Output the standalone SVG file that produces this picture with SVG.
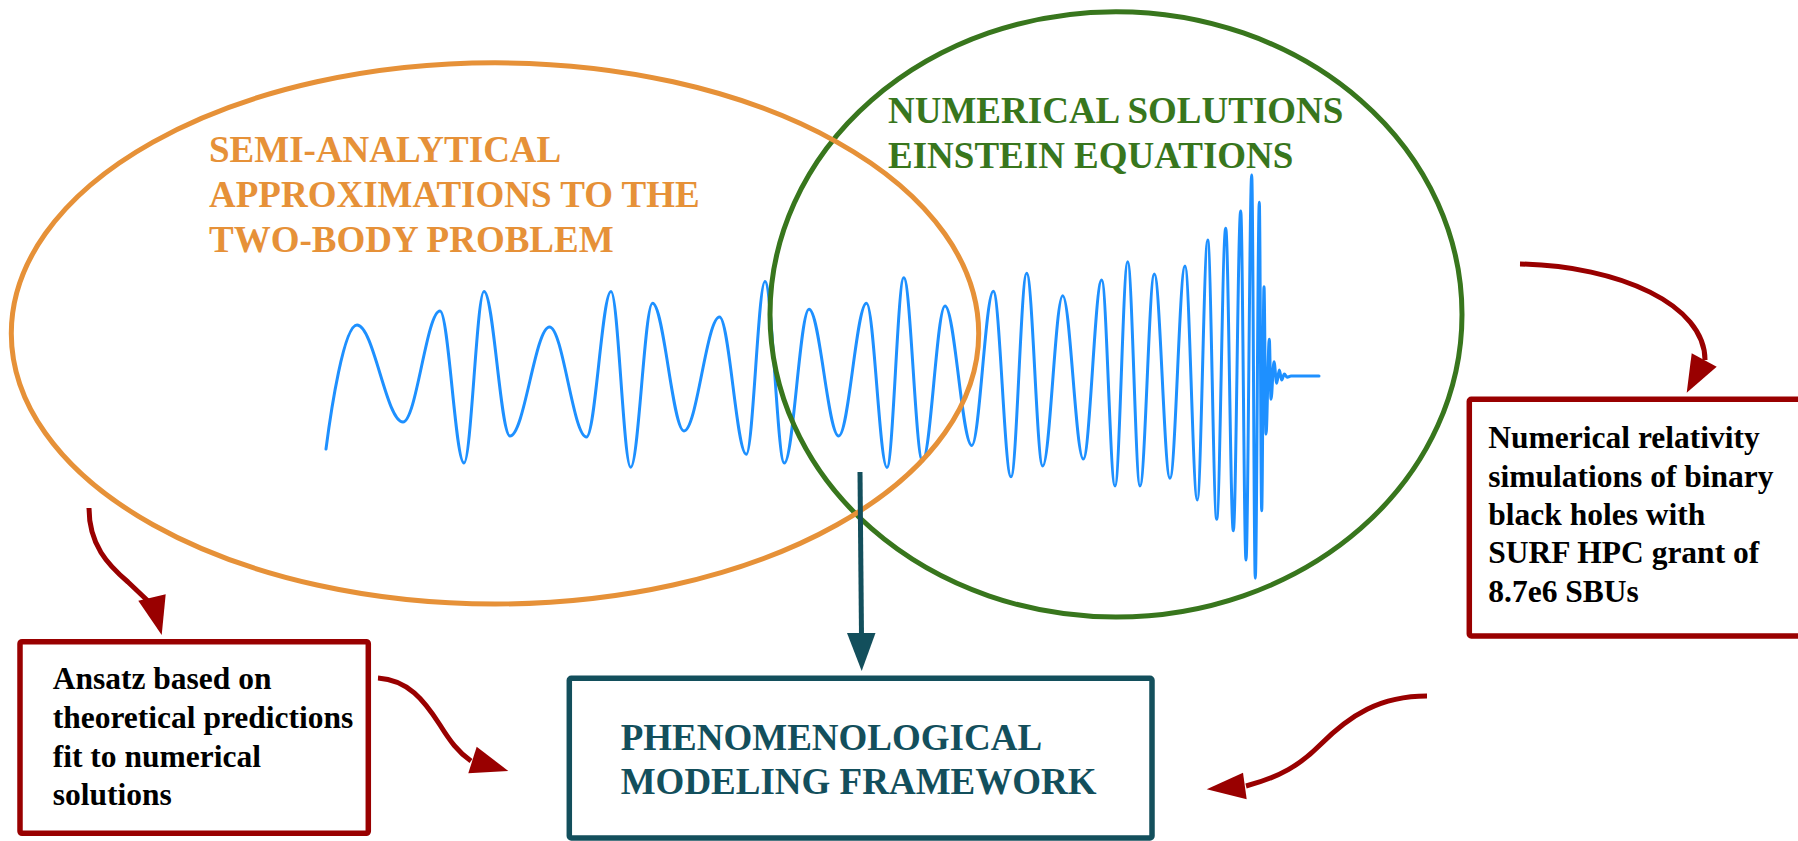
<svg xmlns="http://www.w3.org/2000/svg" width="1798" height="841" viewBox="0 0 1798 841">
<style>
.title{font-family:"Liberation Serif","Times New Roman",serif;font-weight:bold;font-size:37px}
.body{font-family:"Liberation Serif","Times New Roman",serif;font-weight:bold;font-size:31.5px;fill:#000}
.red{fill:none;stroke:#990000;stroke-width:5;stroke-linecap:butt}
.ah{fill:#990000}
.box{fill:#fff;stroke:#990000;stroke-width:5.5}
</style>
<rect width="1798" height="841" fill="#fff"/>

<g id="waveform">
<path fill="none" stroke="#1E90FF" stroke-width="3" stroke-linejoin="round" stroke-linecap="round" d="M326,449 C331,410 344,325 357,325 C373.6,325 386.4,422 403,422 C416.3,422 426.7,311 440,311 C448.6,311 455.4,463 464,463 C471.2,463 476.8,291.5 484,291.5 C493.4,291.5 500.6,436 510,436 C524.2,436 535.3,327 549.5,327 C562.8,327 573.2,437 586.5,437 C595.3,437 602.2,291.5 611,291.5 C618.1,291.5 623.6,467.3 630.7,467.3 C638.5,467.3 644.7,303.3 652.5,303.3 C663.8,303.3 672.7,431 684,431 C696.8,431 706.7,317 719.5,317 C729.1,317 736.7,454.3 746.3,454.3 C753,454.3 758.3,281.5 765,281.5 C771.9,281.5 777.4,463 784.3,463 C793.2,463 800.1,309.3 809,309.3 C819.7,309.3 828,436 838.7,436 C848.7,436 856.5,303.3 866.5,303.3 C873.9,303.3 879.6,467.5 887,467.5 C893,467.5 897.8,277.7 903.8,277.7 C910.5,277.7 915.8,461 922.5,461 C930.6,461 936.9,306 945,306 C954.6,306 962.2,445.5 971.8,445.5 C979.5,445.5 985.6,291.3 993.3,291.3 C999.7,291.3 1004.6,476.7 1011,476.7 C1016.7,476.7 1021,273.3 1026.7,273.3 C1032.5,273.3 1036.9,466 1042.7,466 C1049.9,466 1055.5,295.7 1062.7,295.7 C1070.1,295.7 1075.9,459 1083.3,459 C1089.9,459 1095.1,280 1101.7,280 C1106.5,280 1110.2,486 1115,486 C1119.6,486 1123.1,261.7 1127.7,261.7 C1132.1,261.7 1135.6,486 1140,486 C1145.1,486 1149.2,274 1154.3,274 C1160,274 1164.3,478.3 1170,478.3 C1175.4,478.3 1179.6,266 1185,266 C1189.4,266 1192.9,500 1197.3,500 C1201,500 1204,240 1207.7,240 C1210.9,240 1213.5,519.3 1216.7,519.3 C1219.9,519.3 1222.5,228.3 1225.7,228.3 C1228.4,228.3 1230.6,530.7 1233.3,530.7 C1236,530.7 1238,211 1240.7,211 C1242.6,211 1244.1,560 1246,560 C1248,560 1249.7,175 1251.7,175 C1253,175 1254,578.3 1255.3,578.3 C1256.7,578.3 1257.9,202.3 1259.3,202.3 C1260.2,202.3 1260.8,510.7 1261.7,510.7 C1262.5,510.7 1263.2,286.7 1264,286.7 C1264.7,286.7 1265.3,434 1266,434 C1267.2,434 1268.1,339.3 1269.3,339.3 C1269.9,339.3 1270.4,399.3 1271,399.3 C1272.1,399.3 1272.9,361.7 1274,361.7 C1275,361.7 1275.7,383.3 1276.7,383.3 C1277.6,383.3 1278.4,370 1279.3,370 C1280.2,370 1280.8,380 1281.7,380 C1282.6,380 1283.4,374 1284.3,374 C1285.4,374 1286.2,377.3 1287.3,377.3 C1288.6,377.3 1289.7,376 1291,376 L1319,376"/>
</g>

<g id="numerical-solutions">
<ellipse cx="1116" cy="314.4" rx="346" ry="302.7" fill="none" stroke="#38761d" stroke-width="5"/>
<text class="title" fill="#38761d"><tspan x="888" y="122.7">NUMERICAL SOLUTIONS</tspan><tspan x="888" y="167.7">EINSTEIN EQUATIONS</tspan></text>
</g>

<g id="semi-analytical">
<ellipse cx="495" cy="333.4" rx="483.7" ry="270.6" fill="none" stroke="#e69138" stroke-width="5"/>
<text class="title" fill="#e69138"><tspan x="209" y="161.7">SEMI-ANALYTICAL</tspan><tspan x="209" y="206.7">APPROXIMATIONS TO THE</tspan><tspan x="209" y="251.7">TWO-BODY PROBLEM</tspan></text>
</g>

<g id="ansatz-box">
<rect class="box" x="20" y="641.7" width="348.3" height="191.6" rx="2"/>
<text class="body"><tspan x="52.7" y="689">Ansatz based on</tspan><tspan x="52.7" y="728">theoretical predictions</tspan><tspan x="52.7" y="766.7">fit to numerical</tspan><tspan x="52.7" y="805">solutions</tspan></text>
</g>

<g id="nr-box">
<rect class="box" x="1469.3" y="399.3" width="340" height="236.7" rx="2"/>
<text class="body"><tspan x="1488.3" y="448.3">Numerical relativity</tspan><tspan x="1488.3" y="486.7">simulations of binary</tspan><tspan x="1488.3" y="525">black holes with</tspan><tspan x="1488.3" y="563.3">SURF HPC grant of</tspan><tspan x="1488.3" y="601.7">8.7e6 SBUs</tspan></text>
</g>

<g id="framework-box">
<rect x="569.3" y="678.3" width="582.7" height="159.7" rx="2" fill="#fff" stroke="#134f5c" stroke-width="5.5"/>
<text class="title" fill="#134f5c"><tspan x="620.7" y="750">PHENOMENOLOGICAL</tspan><tspan x="620.7" y="794">MODELING FRAMEWORK</tspan></text>
</g>

<g id="connectors">
<path d="M860,472 L861.5,636" fill="none" stroke="#134f5c" stroke-width="5"/>
<polygon points="847,633 875.5,633 861.7,671" fill="#134f5c"/>

<path class="red" d="M89,508 C89,545 108,565 128,582 L148,601"/>
<polygon class="ah" points="138.3,600.7 165.7,594.3 161.7,635"/>

<path class="red" d="M378,678 C408,680 424,700 440,725 C450,741 458,752 471,761"/>
<polygon class="ah" points="468.3,773.3 476.7,746.7 508.3,771"/>

<path class="red" d="M1520,264 C1620,266 1705,305 1705,360"/>
<polygon class="ah" points="1691.7,353.3 1716.7,366.7 1686.7,392.7"/>

<path class="red" d="M1427,696 C1380,696 1350,715 1320,745 C1300,765 1280,777 1246,786"/>
<polygon class="ah" points="1243,772.7 1246.7,799.3 1206.7,789.3"/>
</g>
</svg>
